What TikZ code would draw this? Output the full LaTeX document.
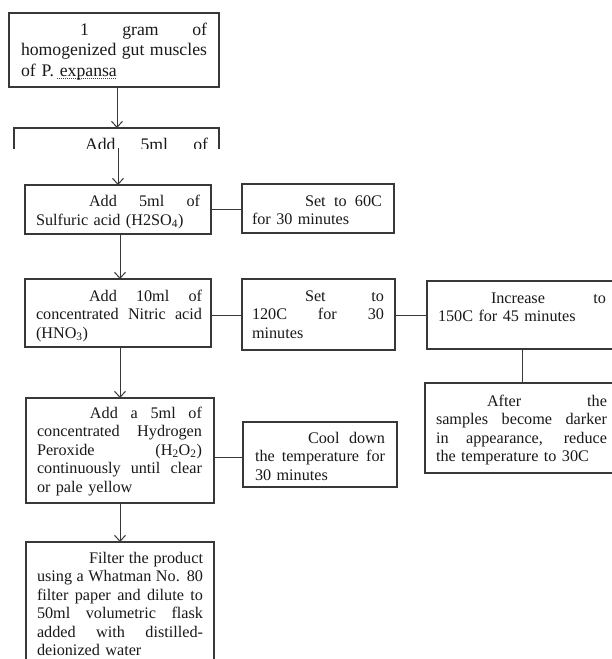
\documentclass[tikz,border=0pt]{standalone}
\usepackage{fontspec}
\setmainfont{Liberation Serif}
\usetikzlibrary{arrows.meta}
\newcommand\J[2][0pt]{\leavevmode\hbox to\linewidth{\spaceskip=0pt\xspaceskip=0pt\hspace*{#1}#2}}
\begin{document}
\begin{tikzpicture}[x=1pt,y=-1pt,
  box/.style={draw=black!78, line width=1.1pt, inner sep=0pt, outer sep=0pt, anchor=north west},
  txt/.style={anchor=base west, inner sep=0pt, outer sep=0pt, align=left, text=black!90,
    font=\fontsize{16.2}{18.5}\selectfont},
  txtl/.style={txt, font=\fontsize{17.7}{20.6}\selectfont},
  arr/.style={draw=black!78, line width=1pt, -{Straight Barb[length=6pt,width=11pt,line width=1pt]}},
  ln/.style={draw=black!78, line width=1pt}]
\useasboundingbox (0,0) rectangle (612,659);
\fill[white] (0,0) rectangle (612,659);
\clip (0,0) rectangle (612,659);

% boxes
\node[box, minimum width=210pt, minimum height=74pt] (b1) at (9,13) {};
\begin{scope}
  \clip (0,120) rectangle (612,148);
  \node[box, minimum width=205pt, minimum height=40pt] (b2) at (14,128) {};
  \node[txtl, text width=182pt] (t2) at (26,150) {\J[59pt]{Add 5ml of}};
\end{scope}
\node[box, minimum width=186pt, minimum height=49pt] (b3) at (25,185) {};
\node[box, minimum width=152pt, minimum height=49pt] (b3b) at (242,184) {};
\node[box, minimum width=186pt, minimum height=68pt] (b4) at (25,279) {};
\node[box, minimum width=153pt, minimum height=71pt] (b4b) at (242,279) {};
\node[box, minimum width=200pt, minimum height=68pt] (b4c) at (427,281) {};
\node[box, minimum width=200pt, minimum height=90pt] (b4d) at (425,383) {};
\node[box, minimum width=188pt, minimum height=105pt] (b5) at (26,398) {};
\node[box, minimum width=154pt, minimum height=65pt] (b5b) at (243,422) {};
\node[box, minimum width=188pt, minimum height=140pt] (b6) at (26,542) {};

% texts
\node[txtl, text width=186pt] (t1) at (21,35) {\J[59pt]{1 gram of}\\\J{homogenized gut muscles}\\of P. expansa};
\draw[red!85!black, line width=0.8pt, dash pattern=on 1pt off 1pt] (57,78.5) -- (117,78.5);
\node[txt, text width=164pt] (t3) at (36,206.5) {\J[53pt]{Add 5ml of}\\Sulfuric acid (H2SO\textsubscript{4})};
\node[txt, text width=130pt] (t3b) at (252,206) {\J[53pt]{Set to 60C}\\for 30 minutes};
\node[txt, text width=166pt] (t4) at (36,301) {\J[53pt]{Add 10ml of}\\\J{concentrated Nitric acid}\\(HNO\textsubscript{3})};
\node[txt, text width=132pt] (t4b) at (252,301) {\J[53pt]{Set to}\\\J{120C for 30}\\minutes};
\node[txt, text width=168pt] (t4c) at (438,303) {\J[53pt]{Increase to}\\150C for 45 minutes};
\node[txt, text width=171pt] (t4d) at (436,406) {\J[51pt]{After the}\\\J{samples become darker}\\\J{in appearance, reduce}\\the temperature to 30C};
\node[txt, text width=165pt] (t5) at (37,418) {\J[53pt]{Add a 5ml of}\\\J{concentrated Hydrogen}\\\J{Peroxide (H\textsubscript{2}O\textsubscript{2})}\\\J{continuously until clear}\\or pale yellow};
\node[txt, text width=130pt] (t5b) at (255,443) {\J[53pt]{Cool down}\\\J{the temperature for}\\30 minutes};
\node[txt, text width=166pt] (t6) at (37,563) {\J[52pt]{Filter the product}\\\J{using a Whatman No. 80}\\\J{filter paper and dilute to}\\\J{50ml volumetric flask}\\\J{added with distilled-}\\deionized water};

% connectors
\coordinate (cut) at (118,148);
\coordinate (vx) at (522,0);
\draw[arr] ([xshift=3pt]b1.south) -- ([xshift=3pt]b1.south |- b2.north);
\draw[arr] (cut) -- (cut |- b3.north);
\draw[arr] ([xshift=2pt]b3.south) -- ([xshift=2pt]b3.south |- b4.north);
\draw[arr] ([xshift=2pt]b4.south) -- ([xshift=2pt]b4.south |- b5.north);
\draw[arr] (b5.south) -- (b5.south |- b6.north);
\draw[ln] (b3.east) -- (b3.east -| b3b.west);
\draw[ln] ([yshift=-2pt]b4.east) -- ([yshift=-2pt]b4.east -| b4b.west);
\draw[ln] (b4c.west -| b4b.east) -- (b4c.west);
\draw[ln] ([yshift=-2.5pt]b5b.west -| b5.east) -- ([yshift=-2.5pt]b5b.west);
\draw[ln] (b4c.south -| vx) -- (b4d.north -| vx);
\end{tikzpicture}
\end{document}
